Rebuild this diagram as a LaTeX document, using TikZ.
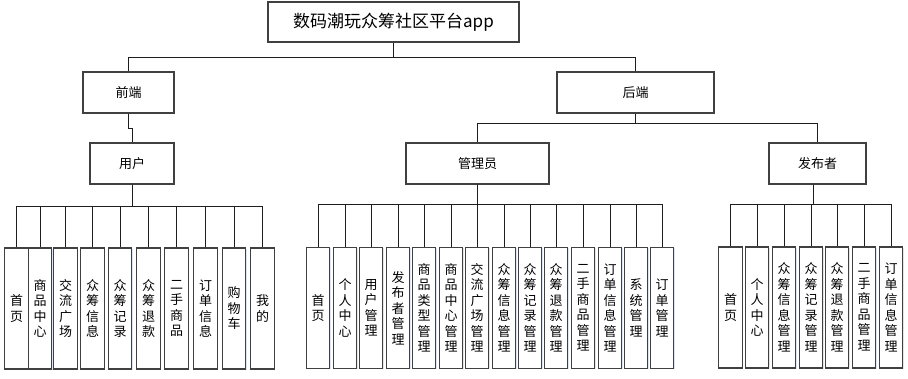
\documentclass[tikz,border=0pt]{standalone}
\usepackage{fontspec}
\newfontfamily\cjk{Noto Sans CJK SC}
\usetikzlibrary{shadows}
\definecolor{cBorder}{RGB}{64,64,64}
\definecolor{cLine}{RGB}{30,30,30}
\definecolor{cShadow}{RGB}{200,214,235}
\tikzset{
	box/.style  ={rectangle, draw=cBorder, line width=1.1pt, fill=white, inner sep=0pt, align=center, minimum height=41pt, drop shadow={shadow xshift=1pt, shadow yshift=-1pt, fill=cShadow, opacity=0.6}, font=\cjk\fontsize{13}{15}\selectfont},
	leaf/.style ={box, minimum width=23.5pt, minimum height=121pt, font=\cjk\fontsize{13}{15.5}\selectfont},
	conn/.style ={draw=cLine, line width=0.9pt},
}
\begin{document}
\begin{tikzpicture}[x=1pt, y=-1pt]
	\useasboundingbox (0,0) rectangle (908,379);
	\node[box, minimum width=251pt, minimum height=40pt, font=\cjk\fontsize{17}{19}\selectfont] (root) at (393.5,22) {数码潮玩众筹社区平台app};
	\node[box, minimum width=91pt] (qd) at (128.5,92.5) {前端};
	\node[box, minimum width=157pt] (hd) at (635.5,92.5) {后端};
	\node[box, minimum width=84pt] (yh) at (132,163.5) {用户};
	\node[box, minimum width=143pt] (gly) at (477.5,163.5) {管理员};
	\node[box, minimum width=97pt] (fbz) at (817.5,163.5) {发布者};
	\draw[conn] (root.south) -- ++(0,15) -| (qd.north);
	\draw[conn] (root.south) -- ++(0,15) -| (hd.north);
	\draw[conn] (qd.south) -- ++(0,15) -| (yh.north);
	\draw[conn] (hd.south) -- ++(0,10) -| (gly.north);
	\draw[conn] (hd.south) -- ++(0,10) -| (fbz.north);
	% front end: user pages
	\foreach \x/\t [count=\i] in {16.5/{首\\页}, 40/{商\\品\\中\\心}, 65.5/{交\\流\\广\\场}, 92.5/{众\\筹\\信\\息}, 120/{众\\筹\\记\\录}, 148.5/{众\\筹\\退\\款}, 176.5/{二\\手\\商\\品}, 205.5/{订\\单\\信\\息}, 234/{购\\物\\车}, 262.5/{我\\的}} {
		\node[leaf] (u\i) at (\x,308.5) {\t};
		\draw[conn] (yh.south) -- ++(0,22) -| (u\i.north);
	}
	% back end: administrator
	\foreach \x/\t [count=\i] in {318/{首\\页}, 345/{个\\人\\中\\心}, 371/{用\\户\\管\\理}, 398/{发\\布\\者\\管\\理}, 424/{商\\品\\类\\型\\管\\理}, 451/{商\\品\\中\\心\\管\\理}, 477/{交\\流\\广\\场\\管\\理}, 504/{众\\筹\\信\\息\\管\\理}, 530/{众\\筹\\记\\录\\管\\理}, 556/{众\\筹\\退\\款\\管\\理}, 583/{二\\手\\商\\品\\管\\理}, 610/{订\\单\\信\\息\\管\\理}, 636/{系\\统\\管\\理}, 662/{订\\单\\管\\理}} {
		\node[leaf] (g\i) at (\x,308) {\t};
		\draw[conn] (gly.south) -- ++(0,20) -| (g\i.north);
	}
	% back end: publisher
	\foreach \x/\t [count=\i] in {730.5/{首\\页}, 757/{个\\人\\中\\心}, 784/{众\\筹\\信\\息\\管\\理}, 811/{众\\筹\\记\\录\\管\\理}, 837/{众\\筹\\退\\款\\管\\理}, 864/{二\\手\\商\\品\\管\\理}, 891/{订\\单\\信\\息\\管\\理}} {
		\node[leaf] (f\i) at (\x,307.5) {\t};
		\draw[conn] ([xshift=-4pt]fbz.south) -- ++(0,20) -| (f\i.north);
	}
\end{tikzpicture}
\end{document}
